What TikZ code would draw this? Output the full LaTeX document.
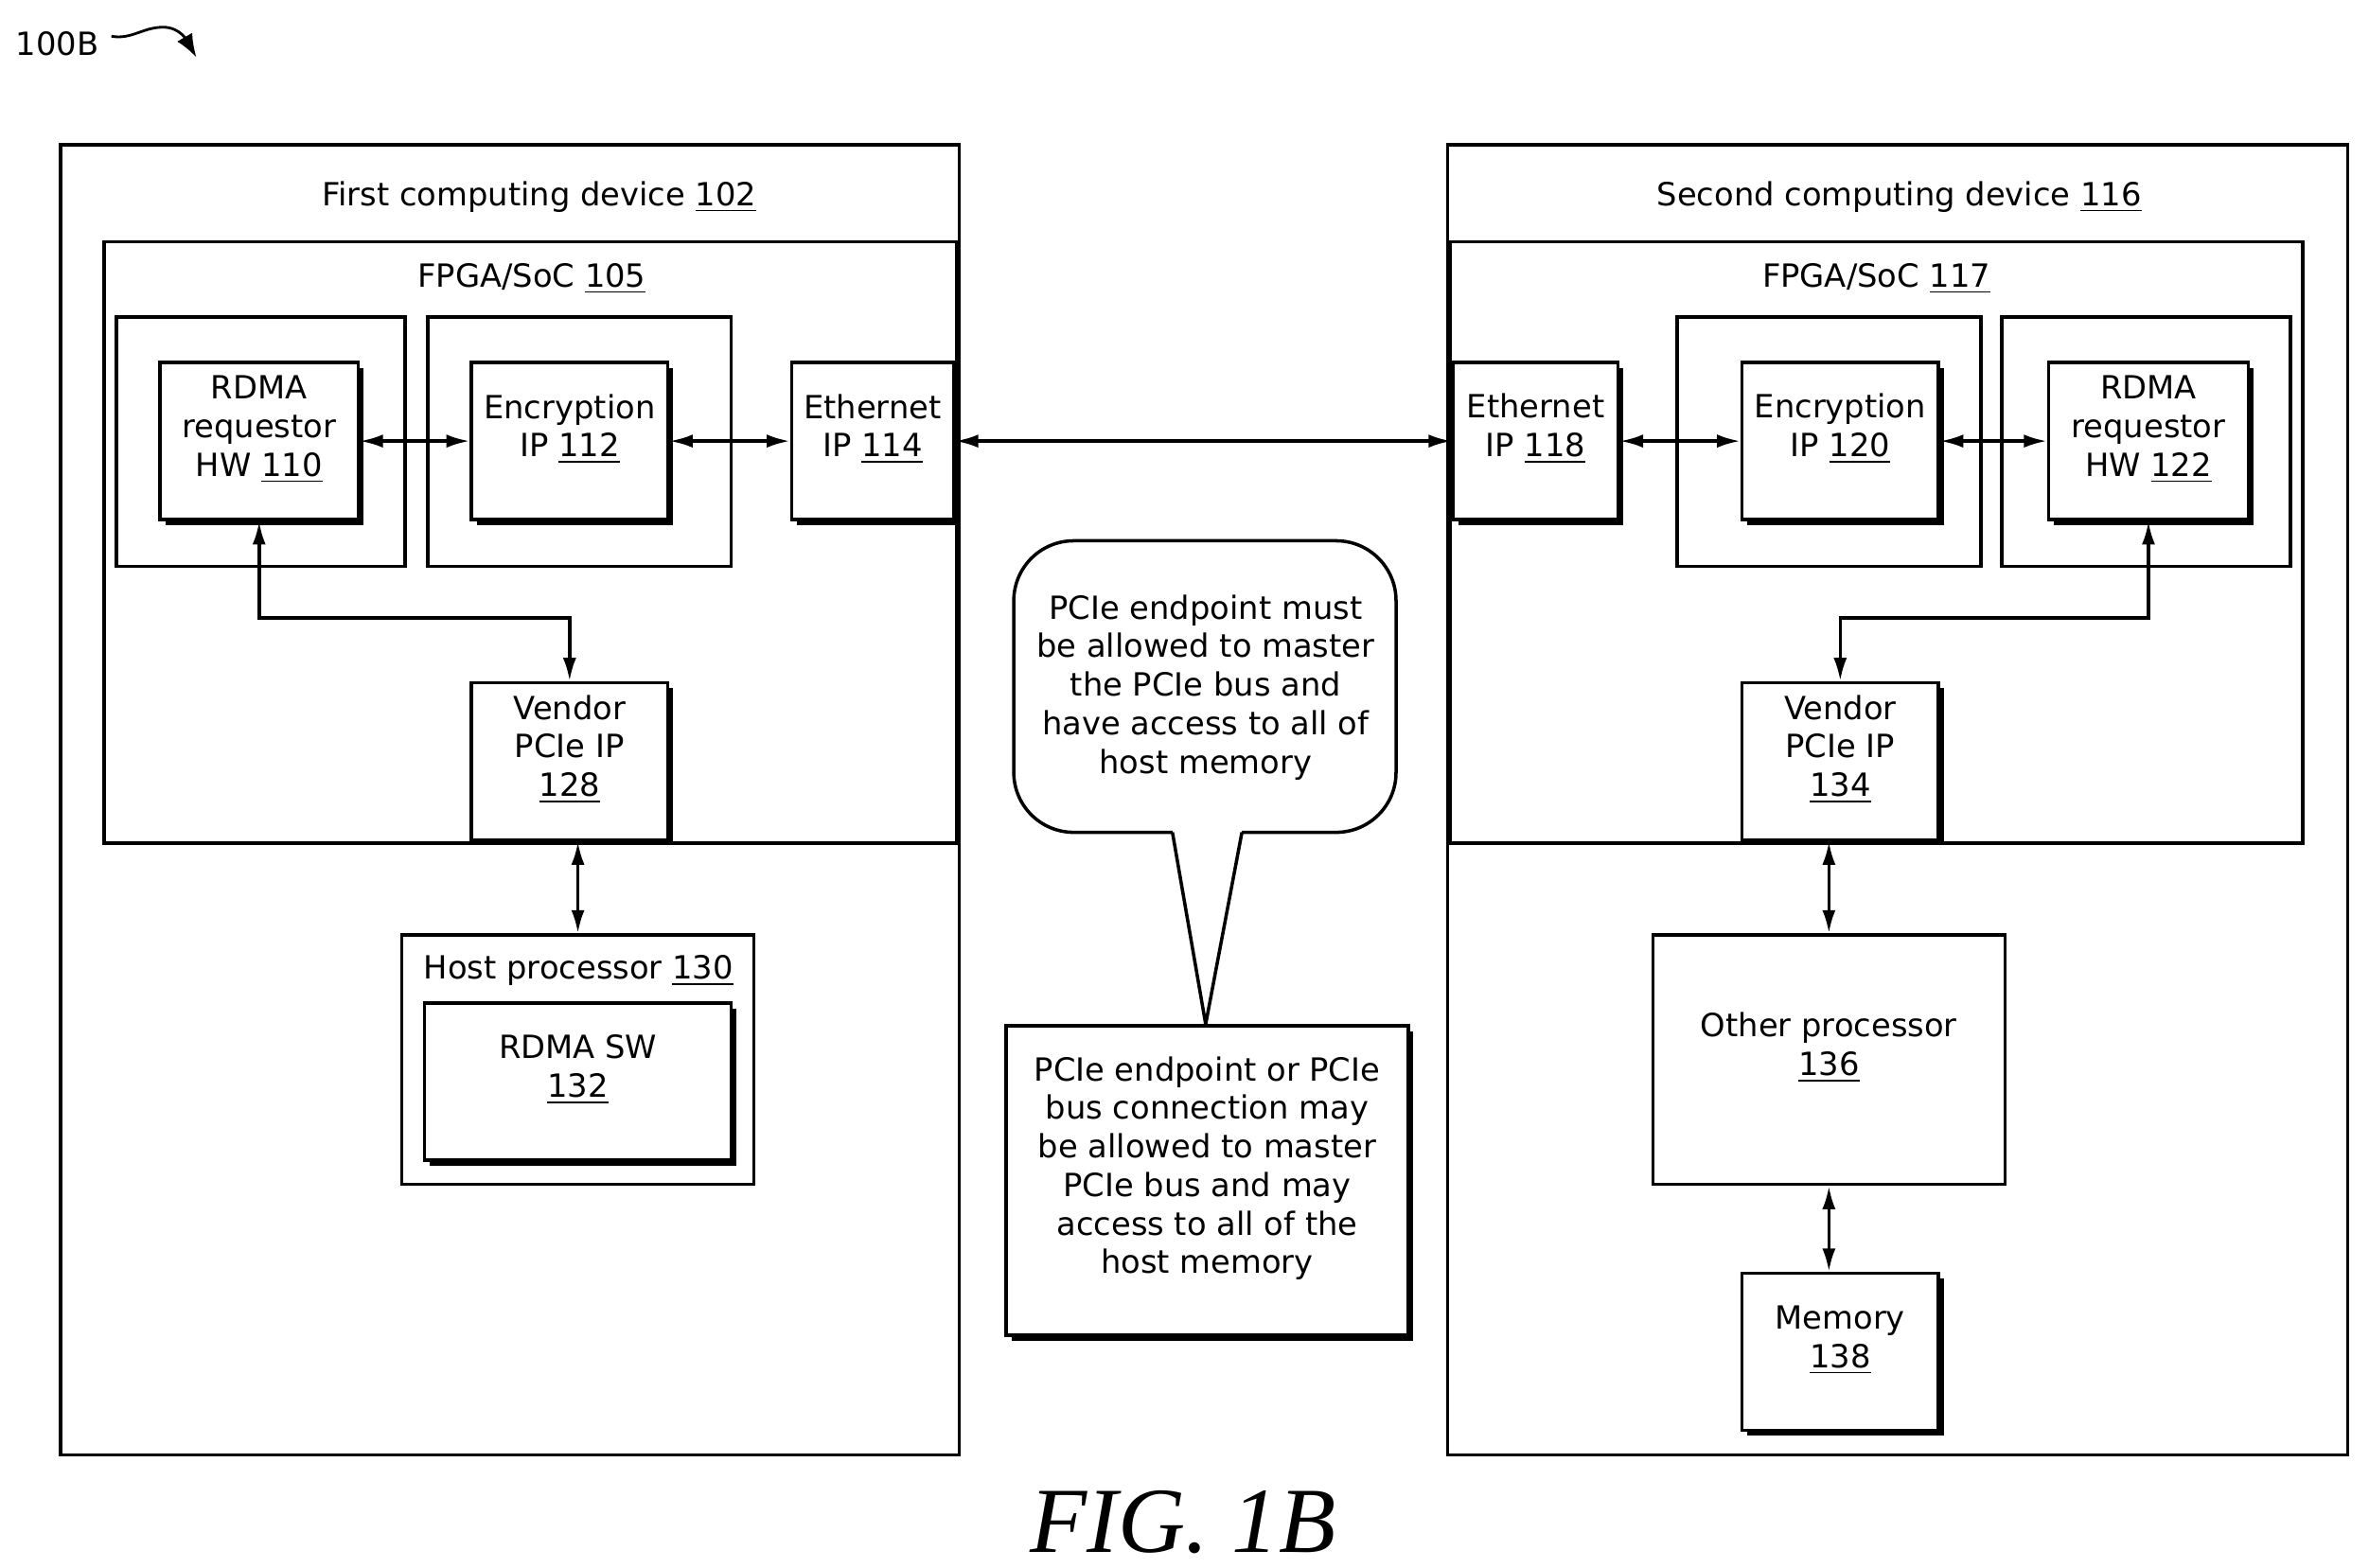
\documentclass[tikz,border=0pt]{standalone}
\usepackage{fontspec}
\setmainfont{DejaVu Sans}
\newfontfamily\figfont{Liberation Serif}
\usetikzlibrary{fit, arrows.meta, shadows, decorations.pathmorphing}

\tikzset{
  box/.style={draw, line width=1pt, inner sep=0pt, align=center},
  hw/.style={box, fill=white, drop shadow={shadow xshift=1.6pt, shadow yshift=-1.6pt, fill=black, opacity=1}},
  title/.style={inner sep=0pt, anchor=base},
  link/.style={<->, line width=1pt, >={Latex[length=7pt, width=4pt]}},
}

\begin{document}
\begin{tikzpicture}[x=0.01596cm, y=-0.01596cm, font=\fontsize{9.6}{11.6}\selectfont]
  \useasboundingbox (0,0) rectangle (1568,1038);

  % label
  \node[title, anchor=west] (lbl) at (10,29) {100B};
  \coordinate (lbltip) at (130,38);
  \draw[line width=0.8pt, -{Latex[length=7pt]}] (lbl.east) ++(8,-5) to[out=-10, in=180] (108,18) to[out=0, in=120] (lbltip);

  % first computing device
  \node[box, fit={(40,96)(635,963)}] (dev1) {};
  \node[title] at (357,136) {First computing device \underline{102}};
  \node[box, fit={(69,160)(633,558)}] (fpga1) {};
  \node[title] at (352,190) {FPGA/SoC \underline{105}};
  \node[box, fit={(77,210)(268,375)}] (rdmaw1) {};
  \node[box, fit={(283,210)(484,375)}] (encw1) {};
  \node[hw, fit={(106,240)(237,344)}] (rdma1) {RDMA\\requestor\\HW \underline{110}};
  \node[hw, fit={(312,240)(442,344)}] (enc1) {Encryption\\IP \underline{112}};
  \node[hw, fit={(524,240)(631,344)}] (eth1) {Ethernet\\IP \underline{114}};
  \node[hw, fit={(312,452)(442,556)}] (ven1) {Vendor\\PCIe IP\\\underline{128}};
  \node[box, fit={(266,619)(499,784)}] (host) {};
  \node[title] at (383,648) {Host processor \underline{130}};
  \node[hw, fit={(281,664)(484,768)}] (sw) {RDMA SW\\\underline{132}};

  % second computing device
  \node[box, fit={(958,96)(1554,963)}] (dev2) {};
  \node[title] at (1257,136) {Second computing device \underline{116}};
  \node[box, fit={(960,160)(1524,558)}] (fpga2) {};
  \node[title] at (1242,190) {FPGA/SoC \underline{117}};
  \node[box, fit={(1110,210)(1311,375)}] (encw2) {};
  \node[box, fit={(1325,210)(1516,375)}] (rdmaw2) {};
  \node[hw, fit={(962,240)(1071,344)}] (eth2) {Ethernet\\IP \underline{118}};
  \node[hw, fit={(1153,240)(1283,344)}] (enc2) {Encryption\\IP \underline{120}};
  \node[hw, fit={(1356,240)(1488,344)}] (rdma2) {RDMA\\requestor\\HW \underline{122}};
  \node[hw, fit={(1153,452)(1283,556)}] (ven2) {Vendor\\PCIe IP\\\underline{134}};
  \node[box, fit={(1094,619)(1327,784)}] (other) {Other processor\\\underline{136}};
  \node[hw, fit={(1153,843)(1283,947)}] (mem) {Memory\\\underline{138}};

  % callout and note
  \node[align=center, inner sep=0pt] (call) at (798,455) {PCIe endpoint must\\be allowed to master\\the PCIe bus and\\have access to all of\\host memory};
  \draw[line width=1pt, rounded corners=18pt] (776,551) -- (671,551) -- (671,358) -- (924,358) -- (924,551) -- (822,551);
  \draw[line width=1pt] (776,551) -- (798,678) -- (822,551);
  \node[hw, fit={(666,679)(932,884)}] (note) {PCIe endpoint or PCIe\\bus connection may\\be allowed to master\\PCIe bus and may\\access to all of the\\host memory};

  % connectors
  \draw[link] (rdma1) -- (enc1);
  \draw[link] (enc1) -- (eth1);
  \draw[link] (eth1) -- (eth2);
  \draw[link] (rdma1.south) -- ++(0,64) -| (ven1.north);
  \draw[link] (host.north) -- (host.north|-ven1.south);
  \draw[link] (eth2) -- (enc2);
  \draw[link] (enc2) -- (rdma2);
  \draw[link] (rdma2.south) -- ++(0,64) -| (ven2.north);
  \draw[link] (other.north) -- (other.north|-ven2.south);
  \draw[link] (other.south) -- (other.south|-mem.north);

  \node[inner sep=0pt, font=\figfont\itshape\fontsize{28}{30}\selectfont] (fig) at (783,1008) {FIG. 1B};
\end{tikzpicture}
\end{document}
